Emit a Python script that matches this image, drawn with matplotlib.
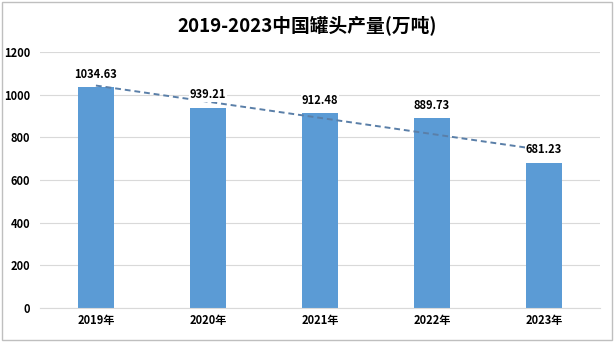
import numpy as np
import matplotlib.pyplot as plt
from matplotlib.patches import Rectangle

plt.rcParams['font.family'] = ['Noto Sans CJK SC', 'DejaVu Sans']

# 数据
years = ['2019年', '2020年', '2021年', '2022年', '2023年']
output = [1034.63, 939.21, 912.48, 889.73, 681.23]
yticks = [0, 200, 400, 600, 800, 1000, 1200]

fig = plt.figure(figsize=(6.14, 3.42), dpi=100)
ax = fig.add_axes([0.065, 0.099, 0.912, 0.749])

x = np.arange(len(years))
ax.bar(x, output, width=0.32, color='#5B9BD5', zorder=2)

# 线性趋势线
k, b = np.polyfit(x, output, 1)
xt = np.array([0, len(years) - 1])
ax.plot(xt, k * xt + b, ls='--', color='#5A7FA8', lw=1.4, dashes=(3, 2), zorder=3)

for xi, v in zip(x, output):
    ax.text(xi, v + 30, f'{v:.2f}', ha='center', va='bottom', fontsize=8,
            fontweight='bold', color='#000000', zorder=4,
            bbox=dict(facecolor='white', edgecolor='none', pad=0.5))

ax.set_xlim(-0.5, len(years) - 0.5)
ax.set_ylim(0, 1200)
ax.set_yticks(yticks)
ax.set_xticks(x)
ax.set_xticklabels(years, fontsize=8, fontweight='bold')
ax.tick_params(axis='y', labelsize=8, length=0, pad=7)
ax.tick_params(axis='x', length=0, pad=4)
for lbl in ax.get_yticklabels():
    lbl.set_fontweight('bold')
ax.grid(axis='y', color='#D9D9D9', lw=0.8, zorder=0)
for s in ['top', 'right', 'left']:
    ax.spines[s].set_visible(False)
ax.spines['bottom'].set_color('#D9D9D9')

fig.suptitle('2019-2023中国罐头产量(万吨)', y=0.955, fontsize=13.5, fontweight='bold')

fig.patches.append(Rectangle((0.003, 0.005), 0.993, 0.99, transform=fig.transFigure,
                             fill=False, edgecolor='#BFBFBF', lw=1))

fig.savefig('out.png', dpi=100)
